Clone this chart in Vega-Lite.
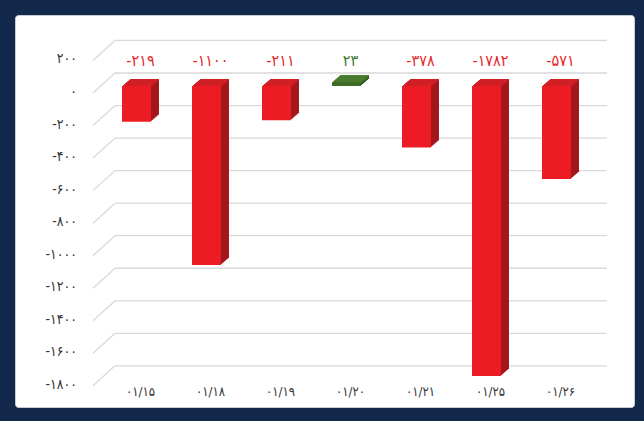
{
  "$schema": "https://vega.github.io/schema/vega-lite/v6.json",
  "width": 619,
  "height": 392,
  "autosize": {"type": "none"},
  "padding": {"left": 15, "top": 15, "right": 10, "bottom": 14},
  "background": "#12294b",
  "config": {
    "view": {"fill": "#ffffff", "stroke": "#c9ccd2", "cornerRadius": 3},
    "axis": {"labelFont": "DejaVu Sans Condensed, DejaVu Sans", "labelColor": "#333333", "labelFontSize": 13, "grid": false, "domain": false, "ticks": false, "labelOverlap": false},
    "text": {"font": "DejaVu Sans Condensed, DejaVu Sans"}
  },
  "datasets": {
    "bars": [
      {"date": "۰۱/۱۵", "value": -219, "label": "-۲۱۹"},
      {"date": "۰۱/۱۸", "value": -1100, "label": "-۱۱۰۰"},
      {"date": "۰۱/۱۹", "value": -211, "label": "-۲۱۱"},
      {"date": "۰۱/۲۰", "value": 23, "label": "۲۳"},
      {"date": "۰۱/۲۱", "value": -378, "label": "-۳۷۸"},
      {"date": "۰۱/۲۵", "value": -1782, "label": "-۱۷۸۲"},
      {"date": "۰۱/۲۶", "value": -571, "label": "-۵۷۱"}
    ],
    "ticks": [
      {"tick": 200, "label": "۲۰۰"}, {"tick": 0, "label": "۰"}, {"tick": -200, "label": "-۲۰۰"},
      {"tick": -400, "label": "-۴۰۰"}, {"tick": -600, "label": "-۶۰۰"}, {"tick": -800, "label": "-۸۰۰"},
      {"tick": -1000, "label": "-۱۰۰۰"}, {"tick": -1200, "label": "-۱۲۰۰"}, {"tick": -1400, "label": "-۱۴۰۰"},
      {"tick": -1600, "label": "-۱۶۰۰"}, {"tick": -1800, "label": "-۱۸۰۰"}
    ]
  },
  "data": {"name": "bars"},
  "transform": [{"calculate": "max(datum.value, 0)", "as": "top"}],
  "layer": [
    {
      "data": {"name": "ticks"},
      "mark": {"type": "rule", "color": "#d9d9d9", "strokeWidth": 1.3, "xOffset": -21.5, "x2Offset": 50.5, "yOffset": -13, "y2Offset": -13},
      "encoding": {
        "x": {"datum": "۰۱/۱۵", "type": "nominal",
          "scale": {"type": "band", "domain": ["۰۱/۱۵", "۰۱/۱۸", "۰۱/۱۹", "۰۱/۲۰", "۰۱/۲۱", "۰۱/۲۵", "۰۱/۲۶"], "range": [86.5, 576.5], "paddingInner": 0.586, "paddingOuter": 0.293},
          "axis": {"orient": "bottom", "offset": -22, "labelPadding": 0, "labelAngle": 0, "labelOffset": 4, "title": null}},
        "x2": {"datum": "۰۱/۲۶"},
        "y": {"field": "tick", "type": "quantitative",
          "scale": {"domain": [-1973, 436.4], "nice": false, "zero": false},
          "axis": null},
        "y2": {"field": "tick"}
      }
    },
    {
      "data": {"name": "ticks"},
      "mark": {"type": "rule", "color": "#d9d9d9", "strokeWidth": 1.3, "xOffset": -43.5, "x2Offset": -21.5, "yOffset": 7, "y2Offset": -13},
      "encoding": {
        "x": {"datum": "۰۱/۱۵", "type": "nominal"},
        "x2": {"datum": "۰۱/۱۵"},
        "y": {"field": "tick", "type": "quantitative"},
        "y2": {"field": "tick"}
      }
    },
    {
      "data": {"name": "ticks"},
      "mark": {"type": "text", "align": "right", "baseline": "middle", "fontSize": 14, "color": "#333333", "xOffset": -59.5, "yOffset": 6},
      "encoding": {
        "x": {"datum": "۰۱/۱۵", "type": "nominal"},
        "y": {"field": "tick", "type": "quantitative"},
        "text": {"field": "label"}
      }
    },
    {"mark": {"type": "bar", "xOffset": 8, "yOffset": -7, "y2Offset": -7},
     "encoding": {"x": {"field": "date", "type": "nominal"}, "y": {"field": "value", "type": "quantitative"}, "y2": {"datum": 0},
       "color": {"condition": {"test": "datum.value < 0", "value": "#a3181d"}, "value": "#2c561b"}}},
    {"mark": {"type": "bar", "xOffset": 6.857, "yOffset": -6, "y2Offset": -6},
     "encoding": {"x": {"field": "date", "type": "nominal"}, "y": {"field": "value", "type": "quantitative"}, "y2": {"datum": 0},
       "color": {"condition": {"test": "datum.value < 0", "value": "#a3181d"}, "value": "#2c561b"}}},
    {"mark": {"type": "bar", "xOffset": 5.714, "yOffset": -5, "y2Offset": -5},
     "encoding": {"x": {"field": "date", "type": "nominal"}, "y": {"field": "value", "type": "quantitative"}, "y2": {"datum": 0},
       "color": {"condition": {"test": "datum.value < 0", "value": "#a3181d"}, "value": "#2c561b"}}},
    {"mark": {"type": "bar", "xOffset": 4.571, "yOffset": -4, "y2Offset": -4},
     "encoding": {"x": {"field": "date", "type": "nominal"}, "y": {"field": "value", "type": "quantitative"}, "y2": {"datum": 0},
       "color": {"condition": {"test": "datum.value < 0", "value": "#a3181d"}, "value": "#2c561b"}}},
    {"mark": {"type": "bar", "xOffset": 3.429, "yOffset": -3, "y2Offset": -3},
     "encoding": {"x": {"field": "date", "type": "nominal"}, "y": {"field": "value", "type": "quantitative"}, "y2": {"datum": 0},
       "color": {"condition": {"test": "datum.value < 0", "value": "#a3181d"}, "value": "#2c561b"}}},
    {"mark": {"type": "bar", "xOffset": 2.286, "yOffset": -2, "y2Offset": -2},
     "encoding": {"x": {"field": "date", "type": "nominal"}, "y": {"field": "value", "type": "quantitative"}, "y2": {"datum": 0},
       "color": {"condition": {"test": "datum.value < 0", "value": "#a3181d"}, "value": "#2c561b"}}},
    {"mark": {"type": "bar", "xOffset": 1.143, "yOffset": -1, "y2Offset": -1},
     "encoding": {"x": {"field": "date", "type": "nominal"}, "y": {"field": "value", "type": "quantitative"}, "y2": {"datum": 0},
       "color": {"condition": {"test": "datum.value < 0", "value": "#a3181d"}, "value": "#2c561b"}}},
    {"mark": {"type": "bar", "xOffset": 8, "yOffset": -7, "y2Offset": -5.8},
     "encoding": {"x": {"field": "date", "type": "nominal"}, "y": {"field": "top", "type": "quantitative"}, "y2": {"field": "top"},
       "color": {"condition": {"test": "datum.value < 0", "value": "#d01f25"}, "value": "#4f8233"}}},
    {"mark": {"type": "bar", "xOffset": 6.857, "yOffset": -6, "y2Offset": -4.8},
     "encoding": {"x": {"field": "date", "type": "nominal"}, "y": {"field": "top", "type": "quantitative"}, "y2": {"field": "top"},
       "color": {"condition": {"test": "datum.value < 0", "value": "#d01f25"}, "value": "#4f8233"}}},
    {"mark": {"type": "bar", "xOffset": 5.714, "yOffset": -5, "y2Offset": -3.8},
     "encoding": {"x": {"field": "date", "type": "nominal"}, "y": {"field": "top", "type": "quantitative"}, "y2": {"field": "top"},
       "color": {"condition": {"test": "datum.value < 0", "value": "#d01f25"}, "value": "#4f8233"}}},
    {"mark": {"type": "bar", "xOffset": 4.571, "yOffset": -4, "y2Offset": -2.8},
     "encoding": {"x": {"field": "date", "type": "nominal"}, "y": {"field": "top", "type": "quantitative"}, "y2": {"field": "top"},
       "color": {"condition": {"test": "datum.value < 0", "value": "#d01f25"}, "value": "#4f8233"}}},
    {"mark": {"type": "bar", "xOffset": 3.429, "yOffset": -3, "y2Offset": -1.8},
     "encoding": {"x": {"field": "date", "type": "nominal"}, "y": {"field": "top", "type": "quantitative"}, "y2": {"field": "top"},
       "color": {"condition": {"test": "datum.value < 0", "value": "#d01f25"}, "value": "#4f8233"}}},
    {"mark": {"type": "bar", "xOffset": 2.286, "yOffset": -2, "y2Offset": -0.8},
     "encoding": {"x": {"field": "date", "type": "nominal"}, "y": {"field": "top", "type": "quantitative"}, "y2": {"field": "top"},
       "color": {"condition": {"test": "datum.value < 0", "value": "#d01f25"}, "value": "#4f8233"}}},
    {"mark": {"type": "bar", "xOffset": 1.143, "yOffset": -1, "y2Offset": 0.2},
     "encoding": {"x": {"field": "date", "type": "nominal"}, "y": {"field": "top", "type": "quantitative"}, "y2": {"field": "top"},
       "color": {"condition": {"test": "datum.value < 0", "value": "#d01f25"}, "value": "#4f8233"}}},
    {"mark": {"type": "bar"},
     "encoding": {"x": {"field": "date", "type": "nominal"}, "y": {"field": "value", "type": "quantitative"}, "y2": {"datum": 0},
       "color": {"condition": {"test": "datum.value < 0", "value": "#ed1c24"}, "value": "#3d6b24"}}},
    {"mark": {"type": "text", "fontSize": 16, "baseline": "middle", "align": "center", "dx": 4},
     "encoding": {"x": {"field": "date", "type": "nominal"}, "y": {"datum": 155}, "text": {"field": "label"},
       "color": {"condition": {"test": "datum.value < 0", "value": "#e8262c"}, "value": "#3b7a2a"}}}
  ]
}
